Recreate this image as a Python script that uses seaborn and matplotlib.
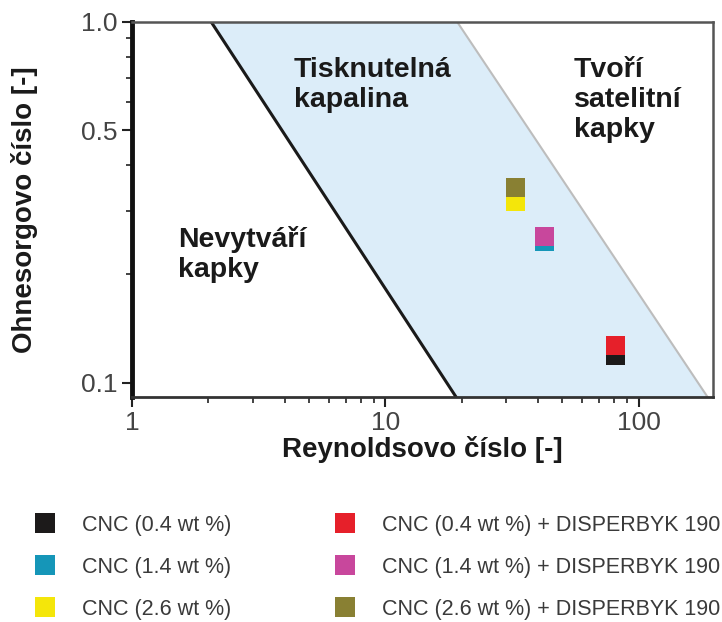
import seaborn as sns
import matplotlib.pyplot as plt
import matplotlib.ticker as mticker
import pandas as pd

# sample data
series = ['CNC (0.4 wt %)', 'CNC (1.4 wt %)', 'CNC (2.6 wt %)',
          'CNC (0.4 wt %) + DISPERBYK 190', 'CNC (1.4 wt %) + DISPERBYK 190',
          'CNC (2.6 wt %) + DISPERBYK 190']
reynolds = [81, 42.4, 32.6, 81, 42.4, 32.6]
ohnesorge = [0.119, 0.246, 0.319, 0.1266, 0.255, 0.347]
colors = ['#1c1a1a', '#1596b8', '#f4e60a', '#e6202a', '#c8479c', '#898033']

# printable region boundaries (Re at Oh = 1.0 and at the bottom of the axis)
oh_edge = [1.0, 0.0915]
re_lower = [2.05, 19.0]
re_upper = [19.2, 187.0]

sns.set_style('ticks')
plt.rcParams['font.family'] = ['Liberation Sans', 'DejaVu Sans']

df = pd.DataFrame({'series': series, 'Re': reynolds, 'Oh': ohnesorge})

fig = plt.figure(figsize=(7.22, 6.22), dpi=100)
ax = fig.add_axes([0.183, 0.362, 0.804, 0.603])

# shaded printable zone
ax.fill(re_lower + re_upper[::-1], oh_edge + oh_edge[::-1],
        color='#dcedf9', lw=0, zorder=0)
ax.plot(re_lower, oh_edge, color='#1a1a1a', lw=2.2, zorder=1)
ax.plot(re_upper, oh_edge, color='#bdbdbd', lw=1.5, zorder=1)

sns.scatterplot(data=df, x='Re', y='Oh', hue='series', hue_order=series,
                palette=colors, marker='s', s=190, linewidth=0, ax=ax, zorder=3)

ax.set_xscale('log')
ax.set_yscale('log')
ax.set_xlim(1, 196)
ax.set_ylim(0.0915, 1.0)
ax.set_yticks([0.1, 0.5, 1.0])
ax.yaxis.set_major_formatter(mticker.FixedFormatter(['0.1', '0.5', '1.0']))
ax.set_xticks([1, 10, 100])
ax.xaxis.set_major_formatter(mticker.FixedFormatter(['1', '10', '100']))
ax.yaxis.set_minor_formatter(mticker.NullFormatter())
ax.xaxis.set_minor_formatter(mticker.NullFormatter())

ax.tick_params(which='major', length=7, width=1.5, labelsize=19,
               labelcolor='#444444', color='#222222')
ax.tick_params(which='minor', length=4, width=1.2, color='#222222')
ax.tick_params(axis='x', pad=3)

ax.spines['left'].set_linewidth(3.5)
ax.spines['left'].set_color('#111111')
ax.spines['bottom'].set_linewidth(2)
ax.spines['bottom'].set_color('#333333')
for s in ['top', 'right']:
    ax.spines[s].set_linewidth(1.8)
    ax.spines[s].set_color('#555555')

ax.set_xlabel('Reynoldsovo číslo [-]', fontsize=20, fontweight='bold',
              color='#1a1a1a', labelpad=1)
ax.set_ylabel('Ohnesorgovo číslo [-]', fontsize=20, fontweight='bold',
              color='#1a1a1a', labelpad=31)

txt = dict(fontsize=20.5, fontweight='bold', color='#1a1a1a', va='top',
           ha='left', linespacing=1.2, transform=ax.transAxes)
ax.text(0.279, 0.905, 'Tisknutelná\nkapalina', **txt)
ax.text(0.761, 0.905, 'Tvoří\nsatelitní\nkapky', **txt)
ax.text(0.079, 0.455, 'Nevytváří\nkapky', **txt)

handles, labels = ax.get_legend_handles_labels()
ax.get_legend().remove()
fig.legend(handles, labels, ncol=2, loc='upper left',
           bbox_to_anchor=(0.033, 0.19), frameon=False,
           prop={'size': 15.5}, labelcolor='#3a3a3a',
           handlelength=1.0, handletextpad=1.2,
           columnspacing=4.8, labelspacing=0.98, borderpad=0, markerscale=1.0)

fig.savefig('out.png', dpi=100)
